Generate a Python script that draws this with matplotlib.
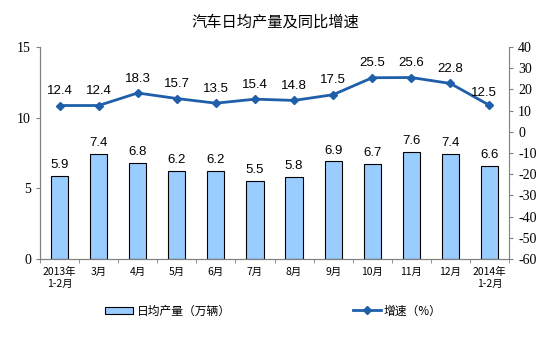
import matplotlib
matplotlib.use("Agg")
import matplotlib.pyplot as plt
import numpy as np

plt.rcParams['font.family'] = ['Liberation Sans', 'Noto Sans CJK SC', 'DejaVu Sans']
plt.rcParams['axes.unicode_minus'] = False

labels = ["2013年\n1-2月", "3月", "4月", "5月", "6月", "7月", "8月", "9月",
          "10月", "11月", "12月", "2014年\n1-2月"]
output = [5.9, 7.4, 6.8, 6.2, 6.2, 5.5, 5.8, 6.9, 6.7, 7.6, 7.4, 6.6]
growth = [12.4, 12.4, 18.3, 15.7, 13.5, 15.4, 14.8, 17.5, 25.5, 25.6, 22.8, 12.5]

bar_color = "#99CCFF"
line_color = "#1F5FAA"
axis_color = "#808080"
cjk = ['Noto Sans CJK SC', 'DejaVu Sans']

fig = plt.figure(figsize=(5.54, 3.45), dpi=100)
ax = fig.add_axes([40 / 554, 1 - 259 / 345, 469 / 554, 212 / 345])
ax2 = ax.twinx()

x = np.arange(len(labels))
ax.bar(x, output, width=0.44, color=bar_color, edgecolor="black", linewidth=0.8,
       label="日均产量（万辆）", zorder=2)
for xi, v in zip(x, output):
    ax.text(xi, v + 0.35, f"{v:.1f}", ha="center", va="bottom", fontsize=9.5)

ax2.plot(x, growth, color=line_color, lw=2, marker="D", ms=4.5,
         label="增速（%）", zorder=3)
for i, (xi, v) in enumerate(zip(x, growth)):
    if i == len(x) - 1:
        ax2.text(xi - 0.15, v + 3, f"{v:.1f}", ha="center", va="bottom", fontsize=9.5)
    else:
        ax2.text(xi, v + 4, f"{v:.1f}", ha="center", va="bottom", fontsize=9.5)

ax.set_xlim(-0.5, len(labels) - 0.5)
ax.set_ylim(0, 15)
ax.set_yticks([0, 5, 10, 15])
ax2.set_ylim(-60, 40)
ax2.set_yticks(range(-60, 41, 10))

ax.set_xticks(x)
ax.set_xticklabels(labels, fontsize=7.5, family=cjk)
ax.set_xticks(np.arange(-0.5, len(labels), 1), minor=True)
ax.tick_params(axis="x", which="major", length=0, pad=6)
ax.tick_params(axis="x", which="minor", length=3, color=axis_color, direction="out")
ax.tick_params(axis="y", labelsize=10, length=3, color=axis_color)
ax2.tick_params(axis="y", labelsize=10, length=3, color=axis_color)
for t in ax.get_yticklabels() + ax2.get_yticklabels():
    t.set_family('Liberation Serif')

for a in (ax, ax2):
    for s in a.spines.values():
        s.set_color(axis_color)
    a.spines["top"].set_visible(False)
ax.spines["right"].set_visible(False)

fig.text(275 / 554, 1 - 22 / 345, "汽车日均产量及同比增速", ha="center", va="center",
         fontsize=11, family=cjk)

h1, l1 = ax.get_legend_handles_labels()
h2, l2 = ax2.get_legend_handles_labels()
leg_font = {'family': cjk, 'size': 8.5}
fig.legend(h1, l1, loc="center", bbox_to_anchor=(168 / 554, 1 - 311 / 345),
           frameon=False, prop=leg_font, handlelength=2.4, handleheight=0.6,
           handletextpad=0.3)
fig.legend(h2, l2, loc="center", bbox_to_anchor=(397 / 554, 1 - 311 / 345),
           frameon=False, prop=leg_font, handlelength=2.4, handletextpad=0.2)

fig.savefig("out.png", dpi=100)
